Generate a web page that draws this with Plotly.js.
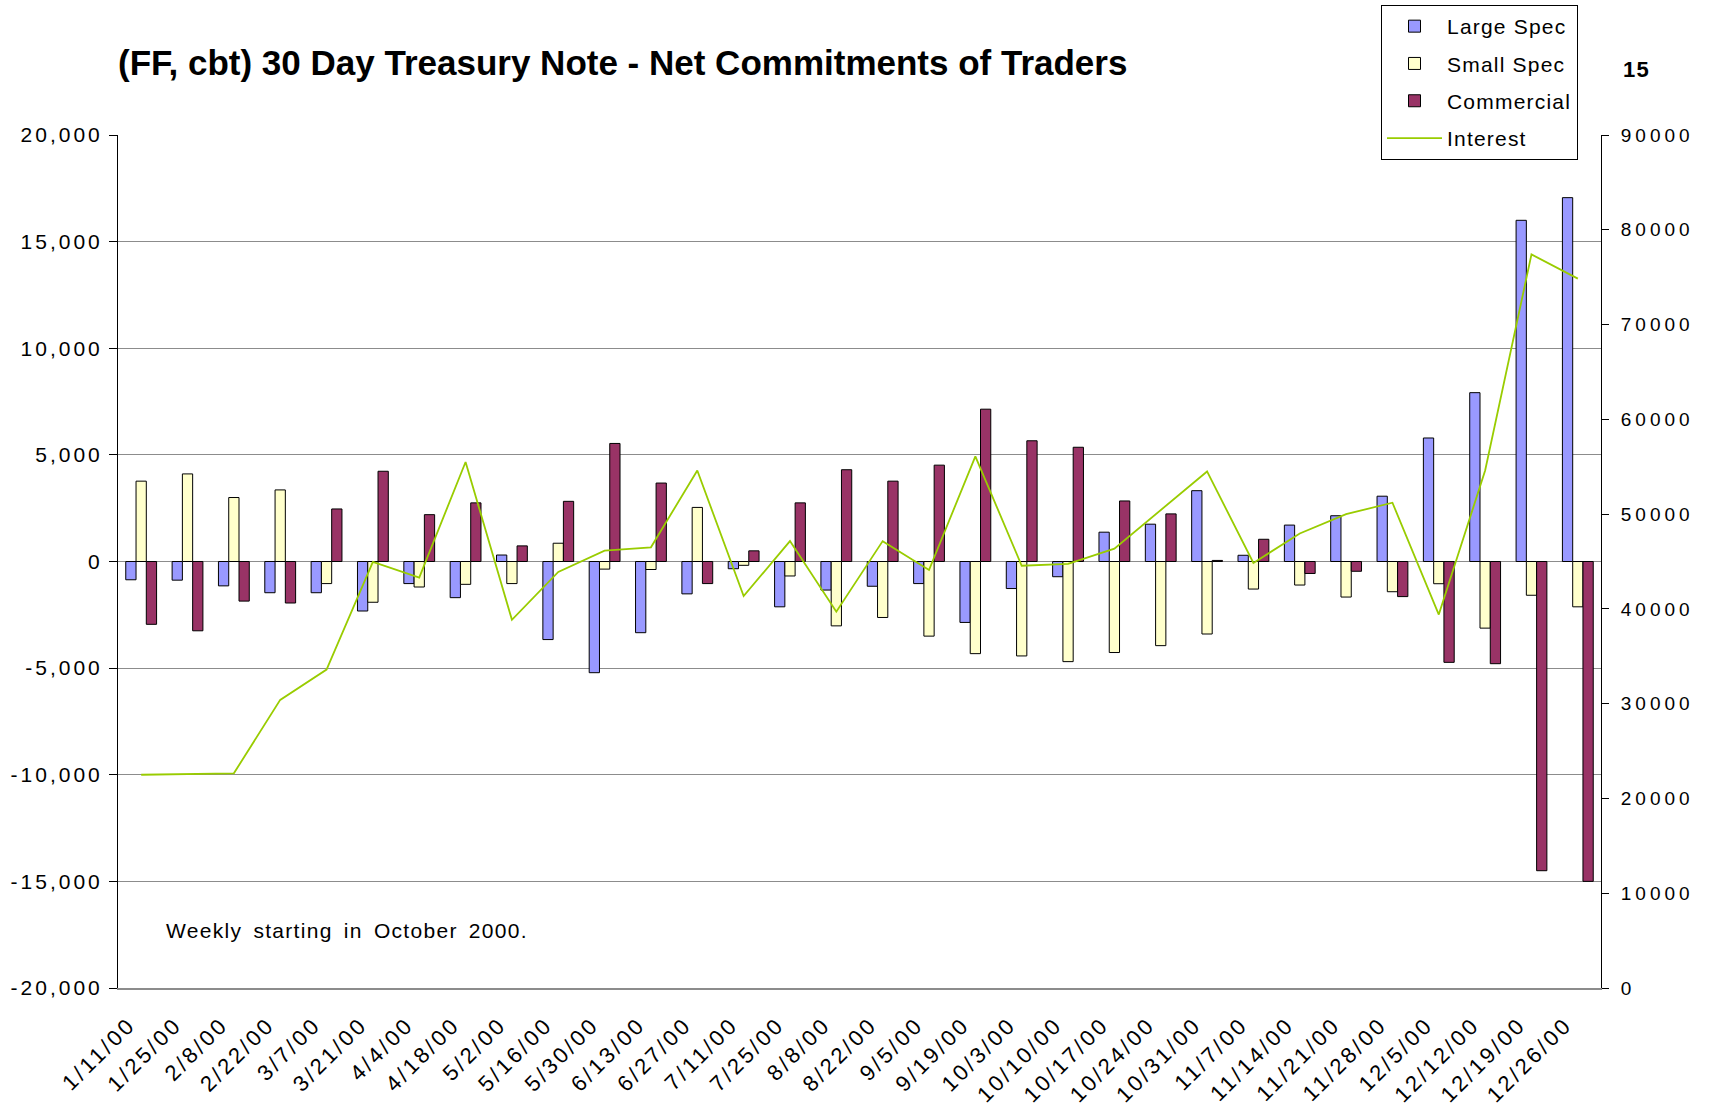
<!DOCTYPE html>
<html>
<head>
<meta charset="utf-8">
<script src="https://cdn.plot.ly/plotly-3.0.1.min.js"></script>
<style>
  html, body { margin: 0; padding: 0; background: #fff; }
  #chart { width: 1711px; height: 1112px; }
  .xtick text, .ytick text { letter-spacing: 3px; }
  .y2tick text { letter-spacing: 4px; }
  text.legendtext { letter-spacing: 1.2px; }
  text.annotation-text { letter-spacing: 1.3px; word-spacing: 4px; }
</style>
</head>
<body>
<div id="chart"></div>
<script>
const dates = ["1/11/00","1/25/00","2/8/00","2/22/00","3/7/00","3/21/00","4/4/00","4/18/00","5/2/00","5/16/00","5/30/00","6/13/00","6/27/00","7/11/00","7/25/00","8/8/00","8/22/00","9/5/00","9/19/00","10/3/00","10/10/00","10/17/00","10/24/00","10/31/00","11/7/00","11/14/00","11/21/00","11/28/00","12/5/00","12/12/00","12/19/00","12/26/00"];

const largeSpec = [-857,-875,-1143,-1464,-1464,-2321,-1036,-1696,304,-3661,-5214,-3339,-1518,-339,-2125,-1339,-1161,-1036,-2857,-1268,-714,1375,1750,3321,292,1708,2146,3062,5792,7917,16000,17062];

const smallSpec = [3768,4107,3000,3357,-1036,-1911,-1196,-1071,-1036,857,-357,-375,2536,-179,-679,-3018,-2625,-3500,-4321,-4429,-4696,-4268,-3946,-3400,-1292,-1104,-1667,-1417,-1042,-3125,-1583,-2125];

const commercial = [-2946,-3250,-1857,-1946,2464,4232,2196,2750,732,2821,5536,3679,-1036,500,2750,4304,3768,4518,7143,5661,5357,2839,2232,50,1042,-562,-458,-1646,-4729,-4792,-14500,-15000];

const openInterest = [22500,22550,22650,30400,33600,44950,43300,55500,38850,43900,46150,46500,54600,41350,47150,39700,47150,44100,56100,44550,44750,46350,50400,54500,44850,47950,50000,51200,39400,54600,77400,74850];

const leftTicks = [-20000,-15000,-10000,-5000,0,5000,10000,15000,20000];
const rightTicks = [0,10000,20000,30000,40000,50000,60000,70000,80000,90000];

const FONT = "Liberation Sans, Arial, Helvetica, sans-serif";
const boundaries = dates.slice(0, -1).map((d, i) => i + 0.5);

const barLine = {color: "#000000", width: 1};
const traces = [
  {type: "bar", name: "Large Spec", x: dates, y: largeSpec, legendgroup: "a",
   marker: {color: "#9999FF", line: barLine}},
  {type: "bar", name: "Small Spec", x: dates, y: smallSpec, legendgroup: "b",
   marker: {color: "#FFFFCC", line: barLine}},
  {type: "bar", name: "Commercial", x: dates, y: commercial, legendgroup: "c",
   marker: {color: "#993366", line: barLine}},
  {type: "scatter", mode: "lines", name: "Interest", x: dates, y: openInterest, yaxis: "y2", legendgroup: "d",
   line: {color: "#99CC00", width: 1.8}}
];

const layout = {
  width: 1711, height: 1112,
  paper_bgcolor: "#ffffff", plot_bgcolor: "#ffffff",
  margin: {l: 118, r: 110, t: 135, b: 124, autoexpand: false},
  font: {family: FONT, color: "#000000"},
  showlegend: true,
  barmode: "group", bargap: 0.335, bargroupgap: 0,
  title: {
    text: "<b>(FF, cbt) 30 Day Treasury Note - Net Commitments of Traders</b>",
    font: {family: FONT, size: 35, color: "#000000"},
    xref: "paper", x: 0, xanchor: "left",
    yref: "container", y: 1 - 63/1112, yanchor: "middle"
  },
  xaxis: {
    type: "category", categoryorder: "array", categoryarray: dates,
    range: [-0.5, dates.length - 0.5],
    tickangle: -45, ticks: "", showgrid: false, zeroline: false,
    showline: true, linecolor: "#8c8c8c", linewidth: 2,
    tickfont: {family: FONT, size: 22, color: "#000000"},
    ticklabelstandoff: 13, ticklabelshift: -12
  },
  xaxis2: {
    overlaying: "x", anchor: "free", position: 0.5, type: "linear",
    range: [-0.5, dates.length - 0.5], tickmode: "array", tickvals: boundaries,
    ticks: "outside", ticklen: 7, tickcolor: "#333333", tickwidth: 1,
    showticklabels: false, showgrid: false, zeroline: false,
    showline: true, linecolor: "#333333", linewidth: 1
  },
  xaxis3: {
    overlaying: "x", anchor: "free", position: 0.5, type: "linear",
    range: [-0.5, dates.length - 0.5], tickmode: "array", tickvals: boundaries,
    ticks: "inside", ticklen: 7, tickcolor: "#333333", tickwidth: 1,
    showticklabels: false, showgrid: false, zeroline: false, showline: false
  },
  yaxis: {
    range: [-20000, 20000], tickmode: "array", tickvals: leftTicks,
    ticktext: leftTicks.map(v => v.toLocaleString("en-US")),
    ticks: "outside", ticklen: 8, tickcolor: "#000000",
    showline: true, linecolor: "#000000", linewidth: 1,
    showgrid: true, gridcolor: "#8c8c8c", gridwidth: 1, zeroline: false,
    tickfont: {family: FONT, size: 21, color: "#000000"},
    ticklabelstandoff: 2
  },
  yaxis2: {
    overlaying: "y", side: "right", anchor: "x",
    range: [0, 90000], tickmode: "array", tickvals: rightTicks,
    ticktext: rightTicks.map(v => String(v)),
    ticks: "outside", ticklen: 7, tickcolor: "#000000",
    showline: true, linecolor: "#000000", linewidth: 1,
    showgrid: false, zeroline: false,
    tickfont: {family: FONT, size: 19, color: "#000000"},
    ticklabelstandoff: 8
  },
  yaxis3: {
    overlaying: "y", side: "right", anchor: "x",
    range: [0, 90000], tickmode: "array", tickvals: rightTicks,
    ticks: "inside", ticklen: 7, tickcolor: "#000000",
    showticklabels: false, showline: false, showgrid: false, zeroline: false
  },
  legend: {
    x: (1381 - 118) / 1483, y: 1 + (135 - 5) / 853, xanchor: "left", yanchor: "top",
    bgcolor: "#ffffff", bordercolor: "#000000", borderwidth: 1,
    font: {family: FONT, size: 21, color: "#000000"},
    traceorder: "grouped", tracegroupgap: 7, itemwidth: 55
  },
  annotations: [
    {text: "Weekly starting in October 2000.", xref: "paper", yref: "paper",
     x: (164 - 118) / 1483, y: (988 - 930) / 853, xanchor: "left", yanchor: "middle",
     showarrow: false, font: {family: FONT, size: 21, color: "#000000"}},
    {text: "<b>15</b>", xref: "paper", yref: "paper",
     x: (1621 - 118) / 1483, y: 1 + (135 - 69) / 853, xanchor: "left", yanchor: "middle",
     showarrow: false, font: {family: FONT, size: 22, color: "#000000"}}
  ]
};

Plotly.newPlot("chart", traces, layout, {displayModeBar: false, staticPlot: true});
</script>
</body>
</html>
